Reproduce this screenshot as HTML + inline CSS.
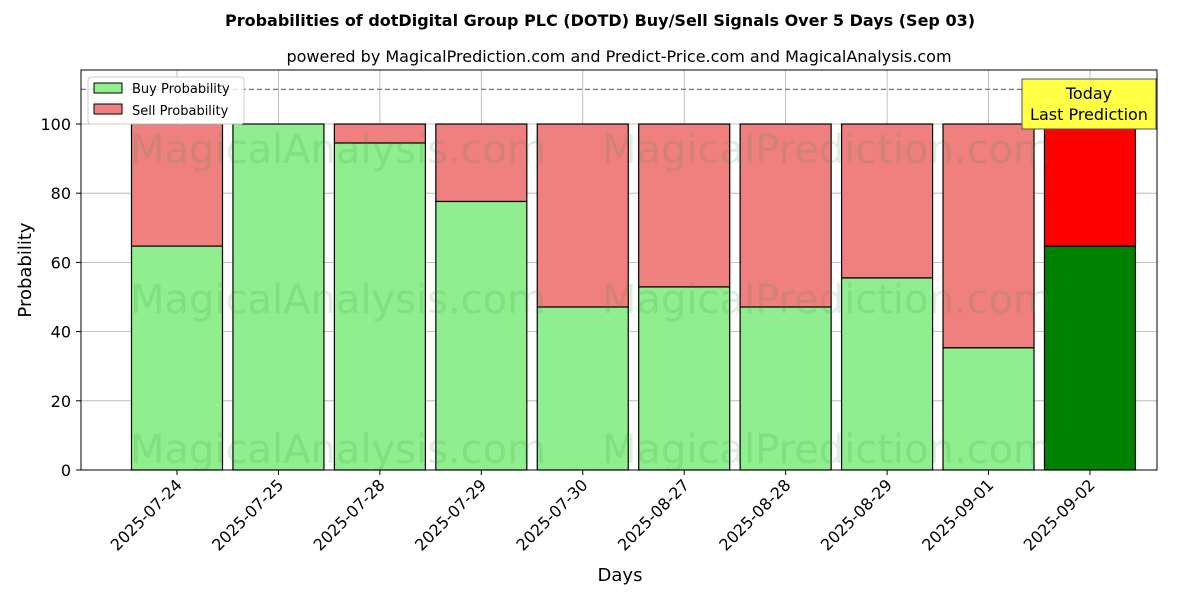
<!DOCTYPE html>
<html><head><meta charset="utf-8"><style>
body{margin:0;background:#fff;font-family:"Liberation Sans","DejaVu Sans",sans-serif;}
</style></head><body>
<svg id="chart" width="1200" height="600" xmlns="http://www.w3.org/2000/svg" font-family="DejaVu Sans, Liberation Sans, sans-serif">
<text x="600" y="26" text-anchor="middle" font-size="16" font-weight="bold">Probabilities of dotDigital Group PLC (DOTD) Buy/Sell Signals Over 5 Days (Sep 03)</text>
<text x="619" y="62" text-anchor="middle" font-size="16">powered by MagicalPrediction.com and Predict-Price.com and MagicalAnalysis.com</text>
<g id="grid"></g>
<g id="bars"></g>
<g id="wm" font-size="40" fill="#2a8a2a" fill-opacity="0.15">
<text x="130" y="163">MagicalAnalysis.com</text>
<text x="602" y="163">MagicalPrediction.com</text>
<text x="130" y="313">MagicalAnalysis.com</text>
<text x="602" y="313">MagicalPrediction.com</text>
<text x="130" y="463">MagicalAnalysis.com</text>
<text x="602" y="463">MagicalPrediction.com</text>
</g>
<g id="axes"></g>
<text x="620" y="581" text-anchor="middle" font-size="18">Days</text>
<text transform="translate(31,270) rotate(-90)" text-anchor="middle" font-size="18">Probability</text>
<g>
<rect x="88" y="77" width="156" height="47" fill="#fff" fill-opacity="0.8" stroke="#ccc" rx="3"/>
<rect x="94" y="83" width="28" height="10" fill="#90ee90" stroke="#000"/>
<text x="132" y="93" font-size="13">Buy Probability</text>
<rect x="94" y="104" width="28" height="10" fill="#f08080" stroke="#000"/>
<text x="132" y="115" font-size="13">Sell Probability</text>
</g>
</svg>
<script>
const days=["2025-07-24","2025-07-25","2025-07-28","2025-07-29","2025-07-30","2025-08-27","2025-08-28","2025-08-29","2025-09-01","2025-09-02"];
const buy=[64.7,100,94.5,77.6,47.1,52.9,47.1,55.5,35.3,64.7];
const yTicks=[0,20,40,60,80,100];
const NS="http://www.w3.org/2000/svg";
const L=81,R=1157,T=70,B=470;
const x=i=>177+i*101.44;
const y=v=>B-v*3.46;
const bw=91;
function mk(p,tag,a){const e=document.createElementNS(NS,tag);for(const k in a)e.setAttribute(k,a[k]);p.appendChild(e);return e;}
const g=document.getElementById('grid'),bars=document.getElementById('bars'),ax=document.getElementById('axes');
yTicks.forEach(t=>{const l=mk(g,'line',{x1:L,x2:R,y1:y(t),y2:y(t),stroke:'#b0b0b0','stroke-width':0.8});


const tl=mk(ax,'text',{x:L-10,y:y(t)+6,'text-anchor':'end','font-size':16});tl.textContent=t;


mk(ax,'line',{x1:L-5,x2:L,y1:y(t),y2:y(t),stroke:'#000'});});
days.forEach((d,i)=>{const l=mk(g,'line',{x1:x(i),x2:x(i),y1:T,y2:B,stroke:'#b0b0b0','stroke-width':0.8});


const last=i===days.length-1;
const s=mk(bars,'rect',{x:x(i)-bw/2,y:y(100),width:bw,height:y(buy[i])-y(100),fill:last?'#ff0000':'#f08080',stroke:'#000','stroke-width':1.2});


const b=mk(bars,'rect',{x:x(i)-bw/2,y:y(buy[i]),width:bw,height:y(0)-y(buy[i]),fill:last?'#008000':'#90ee90',stroke:'#000','stroke-width':1.2});


mk(ax,'line',{x1:x(i),x2:x(i),y1:B,y2:B+5,stroke:'#000'});
const tl=mk(ax,'text',{transform:`translate(${x(i)+6},${B+16}) rotate(-45)`,'text-anchor':'end','font-size':16});tl.textContent=d;

});
const dl=mk(ax,'line',{x1:L,x2:R,y1:y(110),y2:y(110),stroke:'#777','stroke-dasharray':'5,3','stroke-width':1.2});


const fr=mk(ax,'rect',{x:L,y:T,width:R-L,height:B-T,fill:'none',stroke:'#000','stroke-width':1});


const tb=mk(ax,'rect',{x:1022,y:79,width:134,height:50,fill:'#ffff44',stroke:'#555'});


const t1=mk(ax,'text',{x:1089,y:99,'text-anchor':'middle','font-size':16});t1.textContent='Today';


const t2=mk(ax,'text',{x:1089,y:120,'text-anchor':'middle','font-size':16});t2.textContent='Last Prediction';


</script>
</body></html>
